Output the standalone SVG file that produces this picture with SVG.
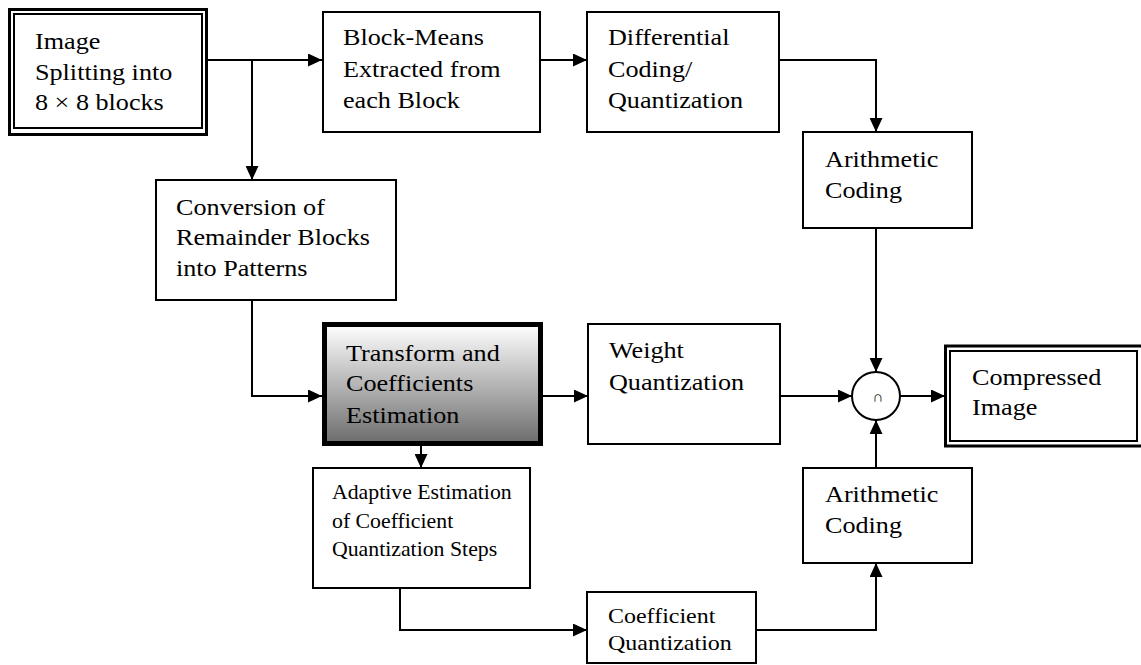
<svg xmlns="http://www.w3.org/2000/svg" width="1141" height="665" viewBox="0 0 1141 665">
<style>
.box{fill:#fff;stroke:#000;stroke-width:2}
.outer{fill:#fff;stroke:#000;stroke-width:3}
.inner{fill:none;stroke:#000;stroke-width:2}
text{font-family:'Liberation Serif','Times New Roman',Times,serif;fill:#000}
.t,.s,.m{transform-box:fill-box;transform-origin:0 0;transform:scaleX(1.09)}
.t{font-size:24px}
.s{font-size:20px}
.m{font-size:22px}
.c{fill:none;stroke:#000;stroke-width:2}
</style>
<defs>
<marker id="ah" markerWidth="14" markerHeight="13" refX="14" refY="6.5" orient="auto" markerUnits="userSpaceOnUse">
<path d="M0,0 L14,6.5 L0,13 Z" fill="#000"/>
</marker>
<linearGradient id="g" x1="0" y1="0" x2="0" y2="1">
<stop offset="0" stop-color="#ffffff"/>
<stop offset="1" stop-color="#6c6c6c"/>
</linearGradient>
</defs>
<g id="connectors">
<path class="c" d="M202,60 H322" marker-end="url(#ah)"/>
<path class="c" d="M252,60 V180" marker-end="url(#ah)"/>
<path class="c" d="M540,60 H587" marker-end="url(#ah)"/>
<path class="c" d="M779,60 H876 V132" marker-end="url(#ah)"/>
<path class="c" d="M876,228 V372" marker-end="url(#ah)"/>
<path class="c" d="M252,300 V396 H322" marker-end="url(#ah)"/>
<path class="c" d="M543,396 H588" marker-end="url(#ah)"/>
<path class="c" d="M780,396 H852" marker-end="url(#ah)"/>
<path class="c" d="M900,396 H945" marker-end="url(#ah)"/>
<path class="c" d="M421,446 V468" marker-end="url(#ah)"/>
<path class="c" d="M400,588 V630 H587" marker-end="url(#ah)"/>
<path class="c" d="M756,630 H876 V563" marker-end="url(#ah)"/>
<path class="c" d="M876,468 V420" marker-end="url(#ah)"/>
</g>
<g id="image-split">
<rect class="outer" x="9.5" y="9.5" width="197" height="125"/>
<rect class="inner" x="14" y="14" width="188" height="114"/>
<text class="t" x="35" y="49">Image</text>
<text class="t" x="35" y="80">Splitting into</text>
<text class="t" x="35" y="110">8 × 8 blocks</text>
</g>
<g id="block-means">
<rect class="box" x="323" y="12" width="217" height="120"/>
<text class="t" x="343" y="45">Block-Means</text>
<text class="t" x="343" y="77">Extracted from</text>
<text class="t" x="343" y="108">each Block</text>
</g>
<g id="differential">
<rect class="box" x="587" y="12" width="192" height="120"/>
<text class="t" x="608" y="45">Differential</text>
<text class="t" x="608" y="77">Coding/</text>
<text class="t" x="608" y="108">Quantization</text>
</g>
<g id="arith-top">
<rect class="box" x="803" y="132" width="169" height="96"/>
<text class="t" x="825" y="167">Arithmetic</text>
<text class="t" x="825" y="198">Coding</text>
</g>
<g id="conversion">
<rect class="box" x="156" y="180" width="240" height="120"/>
<text class="t" x="176" y="215">Conversion of</text>
<text class="t" x="176" y="245">Remainder Blocks</text>
<text class="t" x="176" y="276">into Patterns</text>
</g>
<g id="transform">
<rect x="324.5" y="324.5" width="216" height="119" fill="url(#g)" stroke="#000" stroke-width="5"/>
<text class="t" x="346" y="361">Transform and</text>
<text class="t" x="346" y="391">Coefficients</text>
<text class="t" x="346" y="423">Estimation</text>
</g>
<g id="weight">
<rect class="box" x="588" y="324" width="192" height="120"/>
<text class="t" x="609" y="358">Weight</text>
<text class="t" x="609" y="390">Quantization</text>
</g>
<g id="combine">
<circle cx="876" cy="396" r="24" fill="#fff" stroke="#000" stroke-width="2"/>
<text x="878" y="402" font-size="15" text-anchor="middle">∩</text>
</g>
<g id="compressed">
<rect class="outer" x="945.5" y="346" width="197" height="100"/>
<rect class="inner" x="950" y="351" width="187" height="90"/>
<text class="t" x="972" y="385">Compressed</text>
<text class="t" x="972" y="415">Image</text>
</g>
<g id="adaptive">
<rect class="box" x="313" y="468" width="217" height="120"/>
<text class="s" x="332" y="499">Adaptive Estimation</text>
<text class="s" x="332" y="528">of Coefficient</text>
<text class="s" x="332" y="556">Quantization Steps</text>
</g>
<g id="arith-bottom">
<rect class="box" x="803" y="468" width="169" height="95"/>
<text class="t" x="825" y="502">Arithmetic</text>
<text class="t" x="825" y="533">Coding</text>
</g>
<g id="coef-quant">
<rect class="box" x="587" y="592" width="169" height="71"/>
<text class="m" x="608" y="623">Coefficient</text>
<text class="m" x="608" y="650">Quantization</text>
</g>
</svg>
